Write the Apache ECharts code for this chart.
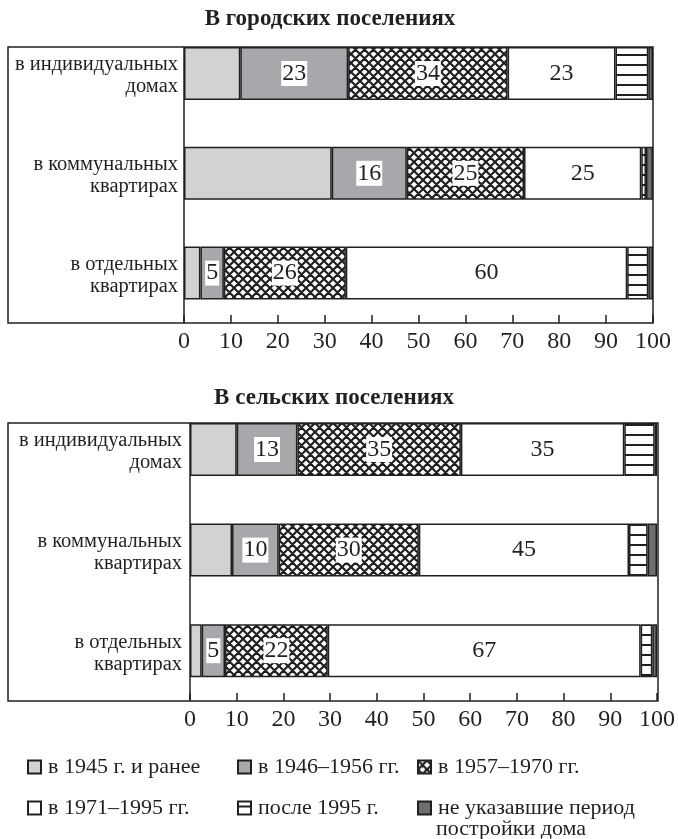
<!DOCTYPE html>
<html>
<head>
<meta charset="utf-8">
<script src="https://cdn.jsdelivr.net/npm/echarts@6/dist/echarts.min.js"></script>
<style>
html,body{margin:0;padding:0;background:#fff;}
#c{width:678px;height:839px;}
</style>
</head>
<body>
<div id="c"></div>
<script>
// ---- DATA ----
const categories = ['в индивидуальных\nдомах', 'в коммунальных\nквартирах', 'в отдельных\nквартирах'];
const periods = ['в 1945 г. и ранее', 'в 1946–1956 гг.', 'в 1957–1970 гг.', 'в 1971–1995 гг.', 'после 1995 г.', 'не указавшие период постройки дома'];
const titleUrban = 'В городских поселениях';
const titleRural = 'В сельских поселениях';
const xTicks = [0, 10, 20, 30, 40, 50, 60, 70, 80, 90, 100];

const urban1945 = [12, 31.5, 3.5];
const urban1946 = [23, 16, 5];
const urban1957 = [34, 25, 26];
const urban1971 = [23, 25, 60];
const urbanAfter1995 = [7, 1, 4.5];
const urbanNA = [1, 1.5, 1];

const rural1945 = [10, 9, 2.5];
const rural1946 = [13, 10, 5];
const rural1957 = [35, 30, 22];
const rural1971 = [35, 45, 67];
const ruralAfter1995 = [6.5, 4, 2.5];
const ruralNA = [0.5, 2, 1];

// ---- STYLE ----
const INK = '#231f20';
const FONT = '"Liberation Serif", "DejaVu Serif", serif';

function crossPattern() {
  const s = 9;
  const c = document.createElement('canvas');
  c.width = s; c.height = s;
  const g = c.getContext('2d');
  g.fillStyle = '#fff'; g.fillRect(0, 0, s, s);
  g.strokeStyle = INK; g.lineWidth = 2.2;
  g.beginPath();
  for (let k = -s; k <= s; k += s) {
    g.moveTo(k - 2, -2); g.lineTo(k + s + 2, s + 2);
    g.moveTo(k - 2, s + 2); g.lineTo(k + s + 2, -2);
  }
  g.stroke();
  return c;
}
function linePattern() {
  const c = document.createElement('canvas');
  c.width = 4; c.height = 10;
  const g = c.getContext('2d');
  g.fillStyle = '#fff'; g.fillRect(0, 0, 4, 10);
  g.fillStyle = INK; g.fillRect(0, 4, 4, 2);
  return c;
}
const fills = [
  '#d1d2d4',
  '#a7a8ab',
  { image: crossPattern(), repeat: 'repeat' },
  '#ffffff',
  { image: linePattern(), repeat: 'repeat' },
  '#6d6e71'
];

function makeSeries(values, gridIdx, stack) {
  return values.map((vals, i) => {
    const showLabel = (i === 1 || i === 2 || i === 3);
    return {
      name: periods[i],
      type: 'bar',
      stack: stack,
      xAxisIndex: gridIdx,
      yAxisIndex: gridIdx,
      barWidth: 53,
      data: vals,
      itemStyle: { color: fills[i], borderColor: INK, borderWidth: 1.5 },
      label: {
        show: showLabel,
        position: 'inside',
        formatter: '{c}',
        fontFamily: FONT,
        fontSize: 24,
        color: INK,
        backgroundColor: (i === 3) ? 'transparent' : '#fff',
        padding: [1, 1, 0, 1]
      },
      emphasis: { disabled: true }
    };
  });
}

const urbanVals = [urban1945, urban1946, urban1957, urban1971, urbanAfter1995, urbanNA];
const ruralVals = [rural1945, rural1946, rural1957, rural1971, ruralAfter1995, ruralNA];

function xAxisCfg(gridIdx) {
  return {
    gridIndex: gridIdx, type: 'value', min: 0, max: 100, interval: 10,
    axisLine: { show: false },
    axisTick: { show: true, inside: true, length: 8, lineStyle: { color: INK, width: 1.5 } },
    axisLabel: { fontFamily: FONT, fontSize: 24, color: INK, margin: 7, formatter: v => xTicks.includes(v) ? String(v) : '' },
    splitLine: { show: false }
  };
}
function yAxisCfg(gridIdx, margin) {
  return {
    gridIndex: gridIdx, type: 'category', inverse: true, data: categories,
    axisLine: { show: false }, axisTick: { show: false },
    axisLabel: {
      fontFamily: FONT, fontSize: 20.5, lineHeight: 22, color: INK, margin: margin,
      formatter: v => '{t|' + v.split('\n').join('}\n{t|') + '}',
      rich: { t: { fontFamily: FONT, fontSize: 20.5, lineHeight: 22, color: INK, padding: [5, 0, 0, 0] } }
    }
  };
}

const legendPos = [
  { left: 27, top: 756 }, { left: 237, top: 756 }, { left: 417, top: 756 },
  { left: 27, top: 797 }, { left: 237, top: 797 }, { left: 417, top: 797 }
];
const legends = periods.map((p, i) => ({
  data: [p],
  left: legendPos[i].left, top: legendPos[i].top,
  orient: 'horizontal', padding: 0,
  itemWidth: 13, itemHeight: 13, itemGap: 0,
  icon: 'rect', selectedMode: false,
  formatter: i === 5 ? 'не указавшие период' : '{name}',
  textStyle: { fontFamily: FONT, fontSize: 22, color: INK, padding: [0, 0, 0, 2] }
}));

const chart = echarts.init(document.getElementById('c'), null, { renderer: 'canvas' });
chart.setOption({
  animation: false,
  backgroundColor: '#fff',
  grid: [
    { left: 184, right: 25, top: 23.6, height: 299.4 },
    { left: 190, right: 20, top: 399.2, height: 301.8 }
  ],
  xAxis: [xAxisCfg(0), xAxisCfg(1)],
  yAxis: [yAxisCfg(0, 6), yAxisCfg(1, 8)],
  legend: legends,
  series: [...makeSeries(urbanVals, 0, 'urban'), ...makeSeries(ruralVals, 1, 'rural')],
  graphic: [
    { type: 'text', x: 330, y: 19, style: { text: titleUrban, font: 'bold 23px ' + FONT, fill: INK, align: 'center', verticalAlign: 'middle' } },
    { type: 'text', x: 334, y: 398, style: { text: titleRural, font: 'bold 23px ' + FONT, fill: INK, align: 'center', verticalAlign: 'middle' } },
    { type: 'text', x: 436, y: 829, style: { text: 'постройки дома', font: '22px ' + FONT, fill: INK, align: 'left', verticalAlign: 'middle' } },
    { type: 'rect', z: 100, shape: { x: 8, y: 47, width: 645, height: 276 }, style: { fill: 'none', stroke: INK, lineWidth: 1.5 } },
    { type: 'line', z: 100, shape: { x1: 184, y1: 47, x2: 184, y2: 323 }, style: { stroke: INK, lineWidth: 1.5 } },
    { type: 'rect', z: 100, shape: { x: 8, y: 423, width: 650, height: 278 }, style: { fill: 'none', stroke: INK, lineWidth: 1.5 } },
    { type: 'line', z: 100, shape: { x1: 190, y1: 423, x2: 190, y2: 701 }, style: { stroke: INK, lineWidth: 1.5 } }
  ]
});
</script>
</body>
</html>
